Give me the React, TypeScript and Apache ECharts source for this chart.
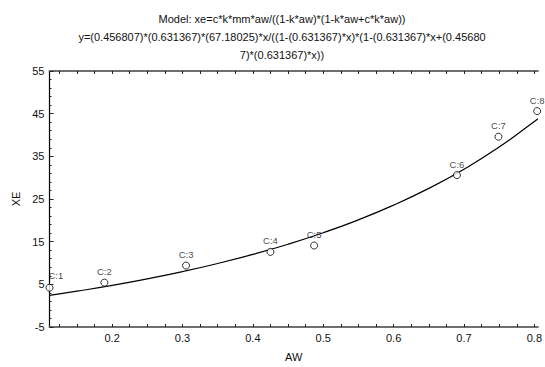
import React, { useEffect, useRef } from "react";
import * as echarts from "echarts";

const titleLines = [
  "Model: xe=c*k*mm*aw/((1-k*aw)*(1-k*aw+c*k*aw))",
  "y=(0.456807)*(0.631367)*(67.18025)*x/((1-(0.631367)*x)*(1-(0.631367)*x+(0.45680",
  "7)*(0.631367)*x))",
];

const pointNames = ["C:1", "C:2", "C:3", "C:4", "C:5", "C:6", "C:7", "C:8"];
const pointAW = [0.111, 0.189, 0.305, 0.425, 0.487, 0.69, 0.749, 0.804];
const pointXE = [4.2, 5.4, 9.4, 12.6, 14.1, 30.6, 39.6, 45.6];

const curveAW = [0.111, 0.15, 0.2, 0.25, 0.3, 0.35, 0.4, 0.45, 0.5, 0.55, 0.6, 0.65, 0.7, 0.75, 0.8, 0.805];
const curveXE = [2.4, 3.39, 4.76, 6.29, 7.99, 9.89, 12.02, 14.4, 17.09, 20.12, 23.56, 27.49, 31.98, 37.16, 43.16, 43.8];

const xLabelValues = [0.2, 0.3, 0.4, 0.5, 0.6, 0.7, 0.8];
const xTickValues = [
  0.125, 0.15, 0.175, 0.2, 0.225, 0.25, 0.275, 0.3, 0.325, 0.35, 0.375, 0.4, 0.425, 0.45,
  0.475, 0.5, 0.525, 0.55, 0.575, 0.6, 0.625, 0.65, 0.675, 0.7, 0.725, 0.75, 0.775, 0.8,
];

const X_MIN = 0.111;
const X_MAX = 0.805;
const Y_MIN = -5;
const Y_MAX = 55;

const FONT = "'Liberation Sans', Arial, sans-serif";

export default function App() {
  const ref = useRef<HTMLDivElement>(null);
  useEffect(() => {
    if (!ref.current) return;
    const chart = echarts.init(ref.current, undefined, { renderer: "svg" });
    const frameLine = { show: true, onZero: false, lineStyle: { color: "#6e6e6e", width: 2 } };
    chart.setOption({
      animation: false,
      backgroundColor: "#ffffff",
      textStyle: { fontFamily: FONT },
      graphic: [
        {
          type: "text",
          x: 282,
          y: 10,
          style: {
            text: titleLines.join("\n"),
            textAlign: "center",
            textVerticalAlign: "top",
            fontFamily: FONT,
            fontSize: 11,
            lineHeight: 18,
            fill: "#111",
          },
        },
      ],
      grid: { left: 49.5, right: 0, top: 71, bottom: 34, containLabel: false },
      xAxis: [
        {
          type: "value",
          min: X_MIN,
          max: X_MAX,
          name: "AW",
          nameLocation: "middle",
          nameGap: 24,
          nameTextStyle: { fontSize: 11, color: "#111", fontFamily: FONT },
          axisLine: frameLine,
          axisTick: { show: true, inside: true, length: 3, customValues: xTickValues, lineStyle: { color: "#222" } },
          axisLabel: {
            customValues: xLabelValues,
            margin: 5,
            fontSize: 11,
            color: "#111",
            fontFamily: FONT,
            formatter: (v: number) => v.toFixed(1),
          },
          splitLine: { show: false },
        },
        {
          type: "value",
          position: "top",
          min: X_MIN,
          max: X_MAX,
          axisLine: frameLine,
          axisTick: { show: true, inside: true, length: 3, customValues: xTickValues, lineStyle: { color: "#222" } },
          axisLabel: { show: false },
          splitLine: { show: false },
        },
      ],
      yAxis: {
        type: "value",
        min: Y_MIN,
        max: Y_MAX,
        interval: 10,
        name: "XE",
        nameLocation: "middle",
        nameGap: 28,
        nameRotate: 90,
        nameTextStyle: { fontSize: 11, color: "#111", fontFamily: FONT },
        axisLine: { show: true, onZero: false, lineStyle: { color: "#000", width: 1.2 } },
        axisTick: { show: true, inside: true, length: 4, lineStyle: { color: "#222" } },
        minorTick: { show: true, splitNumber: 5, length: 2, lineStyle: { color: "#222" } },
        axisLabel: { margin: 5, fontSize: 11, color: "#111", fontFamily: FONT },
        splitLine: { show: false },
      },
      series: [
        {
          type: "line",
          data: curveAW.map((x, i) => [x, curveXE[i]]),
          smooth: true,
          showSymbol: false,
          lineStyle: { color: "#000", width: 1.2 },
          z: 2,
        },
        {
          type: "scatter",
          data: pointAW.map((x, i) => {
            const item: any = { value: [x, pointXE[i]], name: pointNames[i] };
            if (i === 0) item.label = { position: [3, -13] };
            return item;
          }),
          symbol: "circle",
          symbolSize: 7,
          itemStyle: { color: "#fff", borderColor: "#000", borderWidth: 1 },
          label: {
            show: true,
            position: "top",
            distance: 2,
            formatter: (p: any) => p.name,
            fontSize: 9.5,
            color: "#111",
            fontFamily: FONT,
          },
          z: 3,
        },
      ],
    });
    return () => chart.dispose();
  }, []);
  return <div ref={ref} style={{ width: 545, height: 367, position: "absolute", left: 0, top: 0 }} />;
}
